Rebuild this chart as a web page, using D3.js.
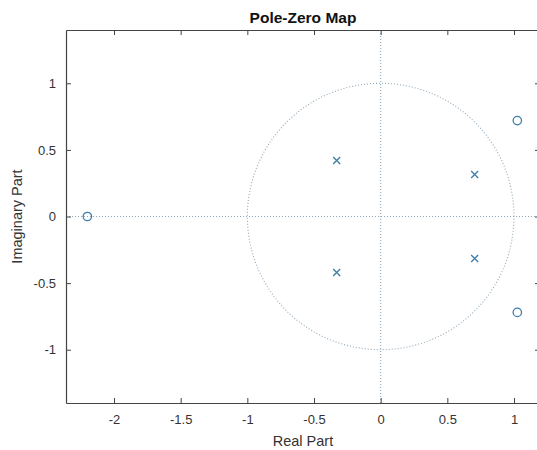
<!DOCTYPE html>
<html>
<head>
<meta charset="utf-8">
<script src="https://cdn.jsdelivr.net/npm/d3@7"></script>
<style>
  body { margin: 0; background: #fff; }
  text { font-family: "Liberation Sans", Arial, sans-serif; }
</style>
</head>
<body>
<div id="chart"></div>
<script>
// poles and zeros
const poleRe = [-0.33, -0.33, 0.705, 0.705];
const poleIm = [0.42, -0.42, 0.315, -0.315];
const zeroRe = [-2.2, 1.025, 1.025];
const zeroIm = [0, 0.72, -0.72];

const xTicks = [-2, -1.5, -1, -0.5, 0, 0.5, 1];
const yTicks = [-1, -0.5, 0, 0.5, 1];
const xLimits = [-2.36, 1.195];
const yLimits = [-1.4, 1.4];

const width = 537, height = 450;
const box = { left: 66, right: 540, top: 30, bottom: 403 };
const markerColor = "#3a7eab";
const gridColor = "#8fa8b8";
const axisColor = "#444";

const svg = d3.select("#chart")
    .append("svg")
    .attr("width", width)
    .attr("height", height);

const x = d3.scaleLinear().domain(xLimits).range([box.left, box.right]);
const y = d3.scaleLinear().domain(yLimits).range([box.bottom, box.top]);

// dotted axes and unit circle
const grid = svg.append("g")
    .attr("fill", "none")
    .attr("stroke", gridColor)
    .attr("stroke-width", 1.1)
    .attr("stroke-dasharray", "1,2");

grid.append("line")
    .attr("x1", x(xLimits[0])).attr("x2", x(xLimits[1]))
    .attr("y1", y(0)).attr("y2", y(0));
grid.append("line")
    .attr("x1", x(0)).attr("x2", x(0))
    .attr("y1", y(yLimits[0])).attr("y2", y(yLimits[1]));

const circle = d3.range(0, 361, 2).map(a => [Math.cos(a * Math.PI / 180), Math.sin(a * Math.PI / 180)]);
grid.append("path")
    .attr("d", d3.line().x(d => x(d[0])).y(d => y(d[1]))(circle));

// axes, ticks inward on all sides
const fmt = d => String(d);
const bottomAxis = d3.axisBottom(x).tickValues(xTicks).tickFormat(fmt).tickSizeInner(-5).tickSizeOuter(0).tickPadding(12);
const topAxis = d3.axisTop(x).tickValues(xTicks).tickFormat("").tickSizeInner(-5).tickSizeOuter(0);
const leftAxis = d3.axisLeft(y).tickValues(yTicks).tickFormat(fmt).tickSizeInner(-5).tickSizeOuter(0).tickPadding(10);
const rightAxis = d3.axisRight(y).tickValues(yTicks).tickFormat("").tickSizeInner(-5).tickSizeOuter(0);

svg.append("g").attr("transform", "translate(0," + box.bottom + ")").call(bottomAxis);
svg.append("g").attr("transform", "translate(0," + box.top + ")").call(topAxis);
svg.append("g").attr("transform", "translate(" + box.left + ",0)").call(leftAxis);
svg.append("g").attr("transform", "translate(" + box.right + ",0)").call(rightAxis);

svg.selectAll(".domain").attr("stroke", axisColor).attr("stroke-width", 1.2);
svg.selectAll(".tick line").attr("stroke", axisColor);
svg.selectAll(".tick text")
    .attr("fill", "#333")
    .style("font-size", "13px")
    .style("font-family", "Liberation Sans, Arial, sans-serif");

// poles (x)
const poles = poleRe.map((r, i) => ({ re: r, im: poleIm[i] }));
const zeros = zeroRe.map((r, i) => ({ re: r, im: zeroIm[i] }));
const s = 3.5;

svg.append("g").selectAll("path")
    .data(poles)
    .enter()
    .append("path")
    .attr("d", d => {
        const cx = x(d.re), cy = y(d.im);
        return "M" + (cx - s) + "," + (cy - s) + "L" + (cx + s) + "," + (cy + s) +
               "M" + (cx - s) + "," + (cy + s) + "L" + (cx + s) + "," + (cy - s);
    })
    .attr("stroke", markerColor)
    .attr("stroke-width", 1.3)
    .attr("fill", "none");

// zeros (o)
svg.append("g").selectAll("circle")
    .data(zeros)
    .enter()
    .append("circle")
    .attr("cx", d => x(d.re))
    .attr("cy", d => y(d.im))
    .attr("r", 4.2)
    .attr("stroke", markerColor)
    .attr("stroke-width", 1.3)
    .attr("fill", "none");

// title and labels
svg.append("text")
    .attr("x", (box.left + box.right) / 2)
    .attr("y", 23)
    .attr("text-anchor", "middle")
    .attr("font-weight", "bold")
    .attr("font-size", "15.5px")
    .attr("fill", "#111")
    .text("Pole-Zero Map");

svg.append("text")
    .attr("x", (box.left + box.right) / 2)
    .attr("y", 446)
    .attr("text-anchor", "middle")
    .attr("font-size", "14.5px")
    .attr("fill", "#333")
    .text("Real Part");

svg.append("text")
    .attr("transform", "translate(22," + (box.top + box.bottom) / 2 + ") rotate(-90)")
    .attr("text-anchor", "middle")
    .attr("font-size", "14.5px")
    .attr("fill", "#333")
    .text("Imaginary Part");
</script>
</body>
</html>
